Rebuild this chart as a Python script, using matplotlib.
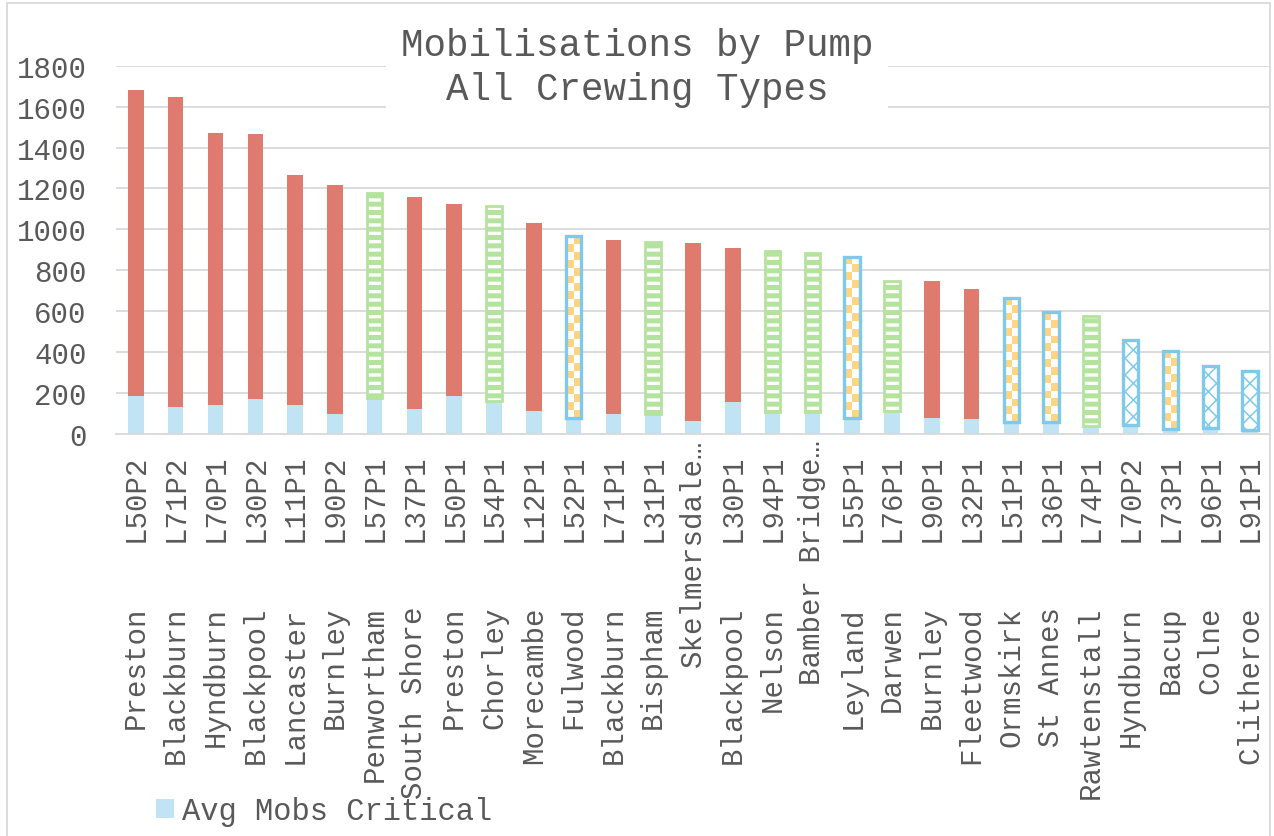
import numpy as np
import matplotlib
matplotlib.use("Agg")
import matplotlib.pyplot as plt
from matplotlib.patches import Rectangle
from matplotlib.colors import ListedColormap

# ---------------- data ----------------
codes = ["L50P2", "L71P2", "L70P1", "L30P2", "L11P1", "L90P2", "L57P1", "L37P1",
         "L50P1", "L54P1", "L12P1", "L52P1", "L71P1", "L31P1", "", "L30P1",
         "L94P1", "", "L55P1", "L76P1", "L90P1", "L32P1", "L51P1", "L36P1",
         "L74P1", "L70P2", "L73P1", "L96P1", "L91P1"]
stations = ["Preston", "Blackburn", "Hyndburn", "Blackpool", "Lancaster", "Burnley",
            "Penwortham", "South Shore", "Preston", "Chorley", "Morecambe", "Fulwood",
            "Blackburn", "Bispham", "Skelmersdale…", "Blackpool", "Nelson",
            "Bamber Bridge…", "Leyland", "Darwen", "Burnley", "Fleetwood", "Ormskirk",
            "St Annes", "Rawtenstall", "Hyndburn", "Bacup", "Colne", "Clitheroe"]
# crewing type of each pump: W = wholetime, D = day crewing, R = on-call, F = flexible
crewing = ["W", "W", "W", "W", "W", "W", "D", "W", "W", "D", "W", "R", "W", "D", "W",
           "W", "D", "D", "R", "D", "W", "W", "R", "R", "D", "F", "R", "F", "F"]
avg_mobs_critical = [187, 134, 143, 173, 143, 99, 176, 122, 187, 163, 112, 80, 98, 96,
                     64, 156, 106, 106, 78, 111, 78, 73, 57, 57, 39, 42, 24, 28, 20]
avg_mobs_other = [1495, 1514, 1329, 1294, 1125, 1119, 1000, 1037, 938, 951, 920, 889,
                  851, 840, 870, 754, 786, 780, 788, 638, 670, 636, 608, 537, 540, 417,
                  384, 303, 287]

title = "Mobilisations by Pump\nAll Crewing Types"
y_ticks = [0, 200, 400, 600, 800, 1000, 1200, 1400, 1600, 1800]

# ---------------- style ----------------
FONT = "Liberation Mono"
TXT = "#595959"
GRID = "#D9D9D9"
RED = "#DE7A6E"
LBLUE = "#C0E4F3"
GREEN = "#B4E39E"
ORANGE = "#FFD584"
BLUE = "#7FC9EA"

plt.rcParams["font.family"] = [FONT, "DejaVu Sans"]

W, H = 1274, 837
fig = plt.figure(figsize=(W / 100, H / 100), dpi=100)
left, right, top, bottom = 116, 1270, 66.7, 435
ax = fig.add_axes([left / W, 1 - bottom / H, (right - left) / W, (bottom - top) / H])

n = len(codes)
x = np.arange(n)
bw = 0.39

ax.set_xlim(-0.5, n - 0.5)
ax.set_ylim(0, 1800)
ax.set_yticks(y_ticks)
ax.yaxis.grid(True, color=GRID, linewidth=1.3, zorder=0)
ax.set_axisbelow(True)
for s in ["top", "right", "left"]:
    ax.spines[s].set_visible(False)
ax.spines["bottom"].set_color(GRID)
ax.spines["bottom"].set_linewidth(1.3)
ax.tick_params(axis="y", length=0, pad=21, labelsize=21, labelcolor=TXT)
ax.tick_params(axis="x", length=0, pad=14, labelsize=21, labelcolor=TXT)
ax.set_xticks(x, codes, rotation=90)

# bottom segment
crit = ax.bar(x, avg_mobs_critical, bw, color=LBLUE, zorder=2, label="Avg Mobs Critical")

base = np.array(avg_mobs_critical)
other = np.array(avg_mobs_other)
cmap = ListedColormap(["white", ORANGE])

for i in range(n):
    t = crewing[i]
    if t == "W":
        ax.bar(x[i], other[i], bw, bottom=base[i], color=RED, zorder=2)
    elif t == "D":
        with plt.rc_context({"hatch.linewidth": 3.6, "hatch.color": GREEN}):
            ax.bar(x[i], other[i], bw, bottom=base[i], facecolor="white",
                   edgecolor=GREEN, linewidth=2.0, hatch="--", zorder=2)
    elif t == "F":
        with plt.rc_context({"hatch.linewidth": 1.1, "hatch.color": BLUE}):
            ax.bar(x[i], other[i], bw, bottom=base[i], facecolor="white",
                   edgecolor=BLUE, linewidth=2.4, hatch="xx", zorder=2)
    else:  # checkerboard
        b = ax.bar(x[i], other[i], bw, bottom=base[i], facecolor="white",
                   edgecolor="none", zorder=2)[0]
        rows = max(2, int(round(other[i] / 39)))
        chk = (np.add.outer(np.arange(rows), np.arange(2)) % 2).astype(float)
        im = ax.imshow(chk, cmap=cmap, vmin=0, vmax=1, origin="lower",
                       extent=(b.get_x(), b.get_x() + b.get_width(),
                               b.get_y(), b.get_y() + b.get_height()),
                       aspect="auto", interpolation="nearest", zorder=2.5)
        im.set_clip_path(b)
        ax.bar(x[i], other[i], bw, bottom=base[i], facecolor="none",
               edgecolor=BLUE, linewidth=2.4, zorder=3)

ax.set_aspect("auto")
ax.set_xlim(-0.5, n - 0.5)
ax.set_ylim(0, 1800)

# station names below codes
for i in range(n):
    off = -123.5 if codes[i] else -3.5
    ax.annotate(stations[i], xy=(x[i], 0), xycoords=("data", "axes fraction"),
                xytext=(0, off), textcoords="offset points", rotation=90,
                ha="center", va="top", fontsize=21, color=TXT, annotation_clip=False)

# title with white box covering gridlines
fig.text(0.5, 1 - 68 / H, title, ha="center", va="center", fontsize=27,
         color=TXT, linespacing=1.28,
         bbox=dict(boxstyle="square,pad=0.4", facecolor="white", edgecolor="none"),
         zorder=5)

# legend
fig.legend([crit], ["Avg Mobs Critical"], loc="center left",
           bbox_to_anchor=(156 / W, 1 - 812 / H), frameon=False, fontsize=22,
           labelcolor=TXT, handlelength=0.6, handleheight=0.6, handletextpad=0.25,
           borderpad=0, borderaxespad=0)

# outer chart border
fig.patches.append(Rectangle((7 / W, -0.01), (1270 - 7) / W, 1 - 4 / H + 0.01,
                             transform=fig.transFigure, fill=False,
                             edgecolor=GRID, linewidth=1.3))

fig.savefig("out.png", dpi=100)
